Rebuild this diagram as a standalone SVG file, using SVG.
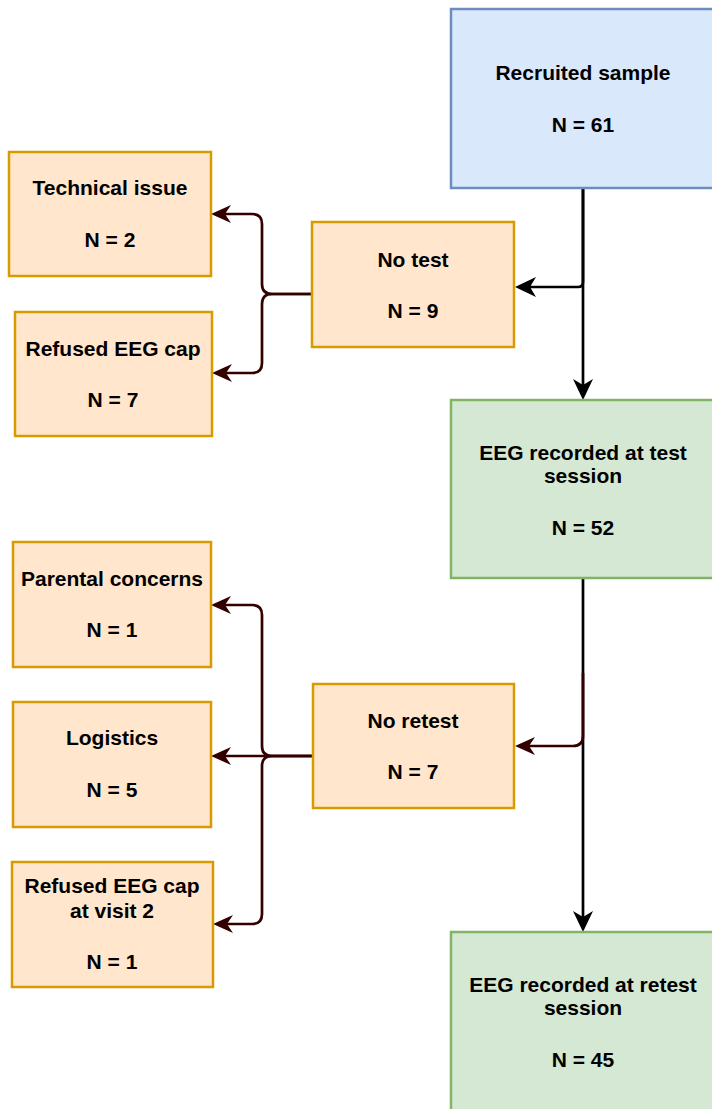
<svg xmlns="http://www.w3.org/2000/svg" width="712" height="1109" viewBox="0 0 712 1109">
  <defs>
    <style>
      .box { stroke-width: 2.5; }
      .blue { fill: #dae8fc; stroke: #6c8ebf; }
      .green { fill: #d5e8d4; stroke: #82b366; }
      .orange { fill: #ffe6cc; stroke: #d79b00; }
      text { font-family: "Liberation Sans", Arial, Helvetica, sans-serif; font-weight: bold; font-size: 21px; fill: #000000; text-anchor: middle; }
      .edge { fill: none; stroke-width: 2.7; }
      .black { stroke: #000000; }
      .maroon { stroke: #330000; }
    </style>
    <!-- classic draw.io style arrowheads; the path ends at the notch -->
    <marker id="arrowBlack" viewBox="0 -11 22 22" refX="6" refY="0" markerWidth="22" markerHeight="22" markerUnits="userSpaceOnUse" orient="auto">
      <path d="M21,0 L0,-10 L6,0 L0,10 Z" fill="#000000"/>
    </marker>
    <marker id="arrowMaroon" viewBox="0 -11 22 22" refX="6" refY="0" markerWidth="22" markerHeight="22" markerUnits="userSpaceOnUse" orient="auto">
      <path d="M20,0 L0,-9 L6,0 L0,9 Z" fill="#330000"/>
    </marker>
  </defs>

  <rect width="712" height="1109" fill="#ffffff"/>

  <!-- connectors -->
  <g id="connectors">
    <!-- main flow -->
    <path class="edge black" d="M583,188 L583,385" marker-end="url(#arrowBlack)"/>
    <path class="edge black" d="M583,188 L583,282 Q583,287 578,287 L530,287" marker-end="url(#arrowBlack)"/>
    <path class="edge black" d="M583,578 L583,917" marker-end="url(#arrowBlack)"/>
    <path class="edge maroon" d="M583,673 L583,736 Q583,746 573,746 L529,746" marker-end="url(#arrowMaroon)"/>

    <!-- no test branches -->
    <path class="edge maroon" d="M312,294 L272,294 Q262,294 262,284 L262,224 Q262,214 252,214 L225,214" marker-end="url(#arrowMaroon)"/>
    <path class="edge maroon" d="M312,294 L272,294 Q262,294 262,304 L262,363 Q262,373 252,373 L226,373" marker-end="url(#arrowMaroon)"/>

    <!-- no retest branches -->
    <path class="edge maroon" d="M313,756 L272,756 Q262,756 262,746 L262,615 Q262,605 252,605 L225,605" marker-end="url(#arrowMaroon)"/>
    <path class="edge maroon" d="M313,756 L225,756" marker-end="url(#arrowMaroon)"/>
    <path class="edge maroon" d="M313,756 L272,756 Q262,756 262,766 L262,914 Q262,924 252,924 L227,924" marker-end="url(#arrowMaroon)"/>
  </g>

  <g id="recruited">
    <rect class="box blue" x="451" y="9" width="264" height="179"/>
    <text x="583" y="80">Recruited sample</text>
    <text x="583" y="132">N = 61</text>
  </g>

  <g id="eeg-test">
    <rect class="box green" x="451" y="400" width="264" height="178"/>
    <text x="583" y="460">EEG recorded at test</text>
    <text x="583" y="483">session</text>
    <text x="583" y="535">N = 52</text>
  </g>

  <g id="eeg-retest">
    <rect class="box green" x="451" y="932" width="264" height="180"/>
    <text x="583" y="992">EEG recorded at retest</text>
    <text x="583" y="1015">session</text>
    <text x="583" y="1067">N = 45</text>
  </g>

  <g id="no-test">
    <rect class="box orange" x="312" y="222" width="202" height="125"/>
    <text x="413" y="267">No test</text>
    <text x="413" y="318">N = 9</text>
  </g>

  <g id="technical-issue">
    <rect class="box orange" x="9" y="152" width="202" height="124"/>
    <text x="110" y="195">Technical issue</text>
    <text x="110" y="247">N = 2</text>
  </g>

  <g id="refused-cap">
    <rect class="box orange" x="15" y="312" width="197" height="124"/>
    <text x="113" y="356">Refused EEG cap</text>
    <text x="113" y="407">N = 7</text>
  </g>

  <g id="no-retest">
    <rect class="box orange" x="313" y="684" width="201" height="124"/>
    <text x="413" y="728">No retest</text>
    <text x="413" y="779">N = 7</text>
  </g>

  <g id="parental-concerns">
    <rect class="box orange" x="13" y="542" width="198" height="125"/>
    <text x="112" y="586">Parental concerns</text>
    <text x="112" y="637">N = 1</text>
  </g>

  <g id="logistics">
    <rect class="box orange" x="13" y="702" width="198" height="125"/>
    <text x="112" y="745">Logistics</text>
    <text x="112" y="797">N = 5</text>
  </g>

  <g id="refused-cap-visit2">
    <rect class="box orange" x="12" y="862" width="201" height="125"/>
    <text x="112" y="893">Refused EEG cap</text>
    <text x="112" y="918">at visit 2</text>
    <text x="112" y="969">N = 1</text>
  </g>
</svg>
